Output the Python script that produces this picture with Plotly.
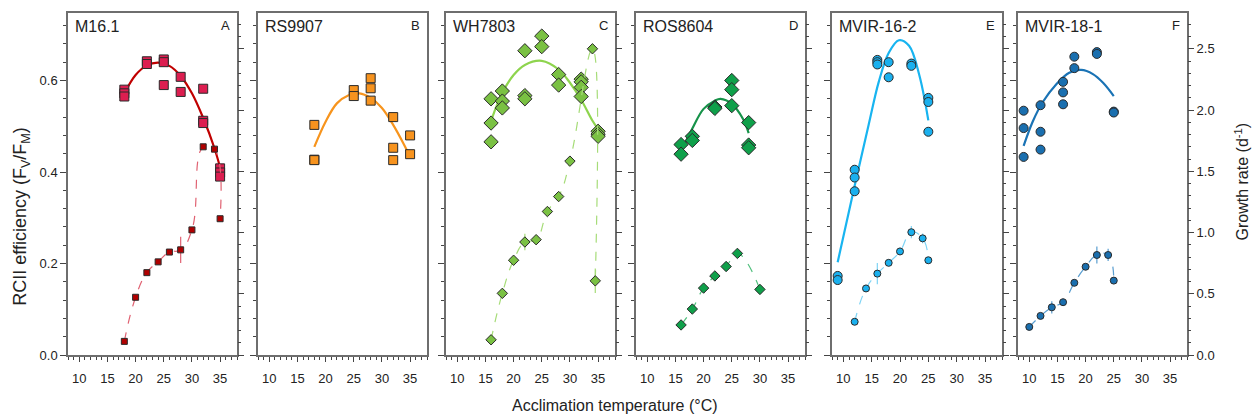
import plotly.graph_objects as go

W, H = 1257, 420

# ---------------- data ----------------
strains = ["M16.1", "RS9907", "WH7803", "ROS8604", "MVIR-16-2", "MVIR-18-1"]
letters = ["A", "B", "C", "D", "E", "F"]
temp_ticks = [10, 15, 20, 25, 30, 35]

A_fv_x = [18, 18, 18, 22, 22, 25, 25, 25, 28, 28, 32, 32, 32, 35, 35, 35]
A_fv_y = [0.580, 0.572, 0.565, 0.642, 0.636, 0.646, 0.640, 0.590, 0.608, 0.575, 0.582, 0.512, 0.507, 0.408, 0.399, 0.390]
A_fit_x = [18, 20, 22, 24, 26, 28, 30, 32, 34, 35]
A_fit_y = [0.572, 0.612, 0.633, 0.639, 0.632, 0.610, 0.572, 0.518, 0.452, 0.410]
A_gr_x = [18, 20, 22, 24, 26, 28, 30, 32, 34, 35]
A_gr_y = [0.112, 0.472, 0.673, 0.761, 0.841, 0.859, 1.022, 1.700, 1.681, 1.113]
A_gr_err = [0, 0, 0, 0, 0, 0.107, 0, 0, 0, 0]

B_fv_x = [18, 18, 18, 25, 25, 28, 28, 28, 32, 32, 32, 35, 35]
B_fv_y = [0.503, 0.427, 0.426, 0.579, 0.566, 0.605, 0.583, 0.556, 0.520, 0.453, 0.426, 0.480, 0.439]
B_fit_x = [18, 20, 22, 24, 26, 28, 30, 32, 34, 35]
B_fit_y = [0.455, 0.510, 0.550, 0.567, 0.572, 0.562, 0.540, 0.503, 0.458, 0.433]

C_fv_x = [16, 16, 16, 18, 18, 18, 22, 22, 22, 25, 25, 28, 28, 32, 32, 32, 32, 35, 35, 35]
C_fv_y = [0.560, 0.507, 0.466, 0.577, 0.555, 0.540, 0.665, 0.567, 0.560, 0.697, 0.674, 0.613, 0.590,
          0.603, 0.597, 0.585, 0.565, 0.489, 0.483, 0.478]
C_fit_x = [16, 18, 20, 22, 25, 28, 30, 32, 34, 35]
C_fit_y = [0.512, 0.573, 0.612, 0.634, 0.643, 0.624, 0.595, 0.558, 0.512, 0.494]
C_gr_x = [16, 18, 20, 22, 24, 26, 28, 30, 34, 34.5]
C_gr_y = [0.125, 0.504, 0.774, 0.923, 0.942, 1.172, 1.294, 1.583, 2.500, 0.606]
C_gr_err = [0, 0, 0, 0.067, 0, 0, 0, 0, 0, 0.10]

D_fv_x = [16, 16, 18, 18, 22, 22, 25, 25, 25, 28, 28, 28]
D_fv_y = [0.460, 0.439, 0.478, 0.469, 0.542, 0.539, 0.600, 0.580, 0.545, 0.508, 0.459, 0.453]
D_fit_x = [16, 18, 20, 22, 23, 25, 27, 28]
D_fit_y = [0.444, 0.495, 0.538, 0.556, 0.560, 0.549, 0.516, 0.485]
D_gr_x = [16, 18, 20, 22, 24, 26, 30]
D_gr_y = [0.246, 0.376, 0.547, 0.646, 0.723, 0.830, 0.536]
D_gr_err = [0, 0, 0, 0, 0, 0, 0]

E_fv_x = [9, 9, 12, 12, 12, 16, 16, 16, 18, 18, 22, 22, 25, 25, 25]
E_fv_y = [0.173, 0.164, 0.405, 0.388, 0.358, 0.645, 0.640, 0.635, 0.640, 0.607, 0.637, 0.632, 0.562, 0.553, 0.488]
E_fit_x = [9, 12, 14.5, 16.25, 18, 19.8, 21.6, 23.4, 25]
E_fit_y = [0.203, 0.370, 0.505, 0.597, 0.660, 0.688, 0.676, 0.612, 0.513]
E_gr_x = [12, 14, 16, 18, 20, 22, 24, 25]
E_gr_y = [0.272, 0.544, 0.665, 0.753, 0.846, 1.003, 0.953, 0.774]
E_gr_err = [0, 0, 0.087, 0, 0.03, 0.05, 0.04, 0]

F_fv_x = [9, 9, 9, 12, 12, 12, 16, 16, 16, 18, 18, 22, 22, 25, 25]
F_fv_y = [0.534, 0.496, 0.433, 0.546, 0.488, 0.449, 0.597, 0.574, 0.548, 0.652, 0.627, 0.662, 0.658, 0.532, 0.530]
F_fit_x = [9, 10.6, 12.4, 14.8, 17.1, 19.2, 21.3, 23.1, 25]
F_fit_y = [0.457, 0.510, 0.553, 0.592, 0.617, 0.623, 0.614, 0.595, 0.566]
F_gr_x = [10, 12, 14, 16, 18, 20, 22, 24, 25]
F_gr_y = [0.230, 0.320, 0.390, 0.432, 0.590, 0.721, 0.817, 0.817, 0.608]
F_gr_err = [0, 0, 0.05, 0, 0, 0, 0.07, 0.05, 0]

# ---------------- styling ----------------
panels = [
    dict(fv=(A_fv_x, A_fv_y), fit=(A_fit_x, A_fit_y), gr=(A_gr_x, A_gr_y, A_gr_err), sym="square",
         fill="#DC1E50", line="#C00000", gfill="#B00000", gline="#E06272", size=9, gsize=6),
    dict(fv=(B_fv_x, B_fv_y), fit=(B_fit_x, B_fit_y), gr=None, sym="square",
         fill="#F7931E", line="#F7941D", gfill=None, gline=None, size=9, gsize=6),
    dict(fv=(C_fv_x, C_fv_y), fit=(C_fit_x, C_fit_y), gr=(C_gr_x, C_gr_y, C_gr_err), sym="diamond",
         fill="#7AC143", line="#8ED44E", gfill="#7AC143", gline="#A6DC78", size=11, gsize=8),
    dict(fv=(D_fv_x, D_fv_y), fit=(D_fit_x, D_fit_y), gr=(D_gr_x, D_gr_y, D_gr_err), sym="diamond",
         fill="#0FA04A", line="#17934A", gfill="#0FA04A", gline="#52C07E", size=11, gsize=8),
    dict(fv=(E_fv_x, E_fv_y), fit=(E_fit_x, E_fit_y), gr=(E_gr_x, E_gr_y, E_gr_err), sym="circle",
         fill="#1AB0EE", line="#18B4F0", gfill="#1AB0EE", gline="#7FD4F5", size=9, gsize=7),
    dict(fv=(F_fv_x, F_fv_y), fit=(F_fit_x, F_fit_y), gr=(F_gr_x, F_gr_y, F_gr_err), sym="circle",
         fill="#1A6FAF", line="#1A73B5", gfill="#1A6FAF", gline="#5A9ED0", size=9, gsize=7),
]

dom_px = [(68, 237), (258, 427), (446, 615), (636, 805), (832, 1002), (1018, 1187)]
top_px, bot_px = 13, 362
y0 = (H - bot_px) / H
y1 = (H - top_px) / H

FONT = "Liberation Sans, Arial, sans-serif"
TXT = "#222222"
FRAME = "#6e6e6e"
TICK = "#444444"

fig = go.Figure()
layout = dict(
    width=W, height=H, margin=dict(l=0, r=0, t=0, b=0),
    paper_bgcolor="white", plot_bgcolor="white", showlegend=False,
    font=dict(family=FONT, size=13, color=TXT),
)
annotations = []

for i, p in enumerate(panels):
    n = i + 1
    xa = "x" if n == 1 else f"x{n}"
    ya = "y" if n == 1 else f"y{n}"
    yr_n = 6 + n
    yra = f"y{yr_n}"
    d0, d1 = dom_px[i]

    layout[f"xaxis{'' if n == 1 else n}"] = dict(
        domain=[d0 / W, d1 / W], anchor=ya, range=[8, 38],
        tickmode="array", tickvals=temp_ticks, ticktext=[str(t) for t in temp_ticks],
        ticks="outside", ticklen=5, tickwidth=1, tickcolor=TICK, ticklabelstandoff=6,
        minor=dict(dtick=1, tick0=10, ticks="outside", ticklen=3, tickwidth=1, tickcolor=TICK),
        showline=True, linecolor=FRAME, linewidth=1.5, mirror=True,
        showgrid=False, zeroline=False, tickfont=dict(size=13, color=TXT),
    )
    layout[f"yaxis{'' if n == 1 else n}"] = dict(
        domain=[y0, y1], anchor=xa, range=[0, 0.748],
        tick0=0, dtick=0.2, tickformat=".1f",
        ticks="outside", ticklen=6, tickwidth=1, tickcolor=TICK,
        minor=dict(dtick=0.04, tick0=0, ticks="outside", ticklen=3, tickwidth=1, tickcolor=TICK),
        showticklabels=(n == 1), showline=True, linecolor=FRAME, linewidth=1.5, mirror=True,
        showgrid=False, zeroline=False, tickfont=dict(size=13, color=TXT),
    )
    layout[f"yaxis{yr_n}"] = dict(
        domain=[y0, y1], anchor=xa, overlaying=ya, side="right", range=[0, 2.794],
        tick0=0, dtick=0.5, tickformat=".1f",
        ticks="outside", ticklen=6, tickwidth=1, tickcolor=TICK,
        minor=dict(dtick=0.1, tick0=0, ticks="outside", ticklen=3, tickwidth=1, tickcolor=TICK),
        showticklabels=(n == 6), showline=False, showgrid=False, zeroline=False,
        tickfont=dict(size=13, color=TXT),
    )

    fx, fy = p["fit"]
    fig.add_trace(go.Scatter(x=fx, y=fy, xaxis=xa, yaxis=ya, mode="lines",
                             line=dict(color=p["line"], width=2.2, shape="spline", smoothing=1.0),
                             hoverinfo="skip"))
    vx, vy = p["fv"]
    fig.add_trace(go.Scatter(x=vx, y=vy, xaxis=xa, yaxis=ya, mode="markers",
                             marker=dict(symbol=p["sym"], size=p["size"], color=p["fill"],
                                         line=dict(color="#2a2a2a", width=1))))
    if p["gr"] is not None:
        gx, gy, ge = p["gr"]
        fig.add_trace(go.Scatter(x=gx, y=gy, xaxis=xa, yaxis=yra, mode="lines",
                                 line=dict(color=p["gline"], width=1.2, dash="dash", shape="spline", smoothing=1.3),
                                 hoverinfo="skip"))
        fig.add_trace(go.Scatter(x=gx, y=gy, xaxis=xa, yaxis=yra, mode="markers",
                                 error_y=dict(type="data", array=ge, visible=True, color=p["gline"],
                                              thickness=1.2, width=0),
                                 marker=dict(symbol=p["sym"], size=p["gsize"], color=p["gfill"],
                                             line=dict(color="#2a2a2a", width=1))))

    annotations.append(dict(text=strains[i], x=(d0 + 5) / W, y=1 - 27.5 / H, xref="paper", yref="paper",
                            xanchor="left", yanchor="middle", showarrow=False,
                            font=dict(size=16, color=TXT)))
    annotations.append(dict(text=letters[i], x=(d1 - 5) / W, y=1 - 26 / H, xref="paper", yref="paper",
                            xanchor="right", yanchor="middle", showarrow=False,
                            font=dict(size=13, color=TXT)))

annotations.append(dict(text="RCII efficiency (F<sub>V</sub>/F<sub>M</sub>)", x=22 / W, y=1 - 221 / H,
                        xref="paper", yref="paper", textangle=-90, showarrow=False,
                        xanchor="center", yanchor="middle", font=dict(size=18, color=TXT)))
annotations.append(dict(text="Growth rate (d<sup>-1</sup>)", x=1242 / W, y=1 - 185 / H,
                        xref="paper", yref="paper", textangle=-90, showarrow=False,
                        xanchor="center", yanchor="middle", font=dict(size=16, color=TXT)))
annotations.append(dict(text="Acclimation temperature (°C)", x=615 / W, y=1 - 413 / H,
                        xref="paper", yref="paper", showarrow=False,
                        xanchor="center", yanchor="middle", font=dict(size=16, color=TXT)))

layout["annotations"] = annotations
fig.update_layout(**layout)

fig.write_html("out.html", config={"displayModeBar": False},
               post_script="document.body.style.margin='0';document.body.style.padding='0';")
